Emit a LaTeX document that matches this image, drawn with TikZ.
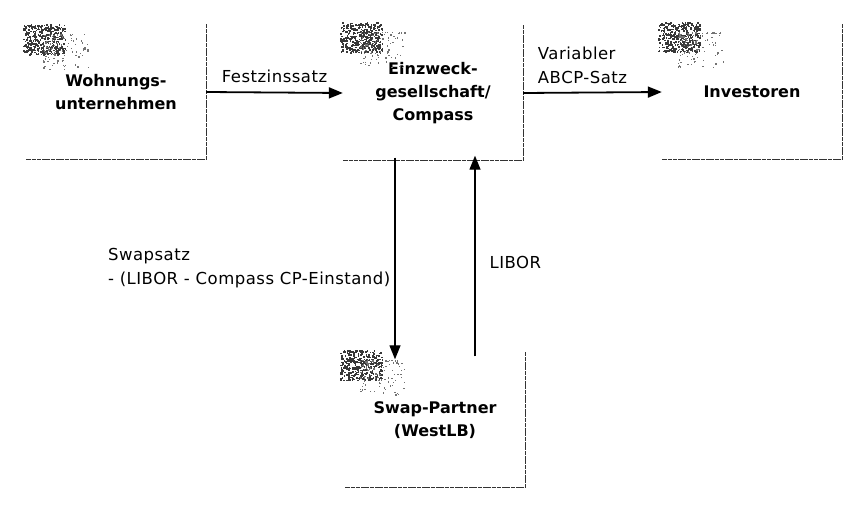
\documentclass[tikz,border=0pt]{standalone}
\usepackage{fontspec}
\setmainfont{DejaVu Sans}
\usetikzlibrary{arrows.meta}
\tikzset{
  boxnode/.style={minimum width=180pt, minimum height=135pt, inner sep=0pt, align=center,
    font=\fontsize{16}{23}\selectfont\bfseries},
  boxedge/.style={line width=1.3pt, black!80, dash pattern=on 4pt off 0.7pt},
  flow/.style={line width=1.3pt, -{Triangle[length=14pt,width=11pt]}},
  hflow/.style={flow, line width=1.8pt},
  lbl/.style={font=\fontsize{16.5}{24}\selectfont\addfontfeatures{LetterSpace=3}, inner sep=0pt, align=left},
}
\newcommand\noisepatch[2]{%
  \foreach \k in {1,...,360}{%
    \pgfmathsetmacro\nx{#1+42*rnd}%
    \pgfmathsetmacro\ny{#2+30*rnd}%
    \fill[black!78] (\nx,\ny) rectangle ++(1.6,1.6);
  }%
  \foreach \k in {1,...,110}{%
    \pgfmathsetmacro\nx{#1+20+45*rnd^1.5}%
    \pgfmathsetmacro\ny{#2+10+35*rnd^1.5}%
    \fill[black!55] (\nx,\ny) rectangle ++(1.3,1.3);
  }}
\begin{document}
\begin{tikzpicture}[x=1pt,y=-1pt]
\useasboundingbox (0,0) rectangle (854,511);
\pgfmathsetseed{7}
% boxes
\node[boxnode] (w) at (116,92) {Wohnungs-\\unternehmen};
\node[boxnode] (e) at (433,93) {Einzweck-\\gesellschaft/\\Compass};
\node[boxnode] (i) at (752,92) {Investoren};
\node[boxnode] (s) at (435,420) {Swap-Partner\\(WestLB)};
\foreach \b in {w,e,i,s}{
  \draw[boxedge] (\b.north east) -- (\b.south east) -- (\b.south west);
}
% noise patches
\noisepatch{23}{24}
\noisepatch{340}{22}
\noisepatch{658}{22}
\noisepatch{340}{350}
% connectors
\draw[hflow] (w.east) -- (e.west) node[lbl, pos=0.5, above=9pt] {Festzinssatz};
\draw[hflow] (e.east) -- (i.west) node[lbl, pos=0.1, above=8pt, anchor=south west] {Variabler\\ABCP-Satz};
\draw[flow] ([xshift=-38pt,yshift=3pt]e.south) -- ([xshift=-40pt,yshift=-7pt]s.north)
  node[lbl, pos=0.55, anchor=east, xshift=-4pt] {Swapsatz\\- (LIBOR - Compass CP-Einstand)};
\draw[flow] ([xshift=40pt,yshift=-4pt]s.north) -- ([xshift=42pt,yshift=5pt]e.south)
  node[lbl, pos=0.5, anchor=west, xshift=14pt, yshift=-6pt] {LIBOR};
\end{tikzpicture}
\end{document}
